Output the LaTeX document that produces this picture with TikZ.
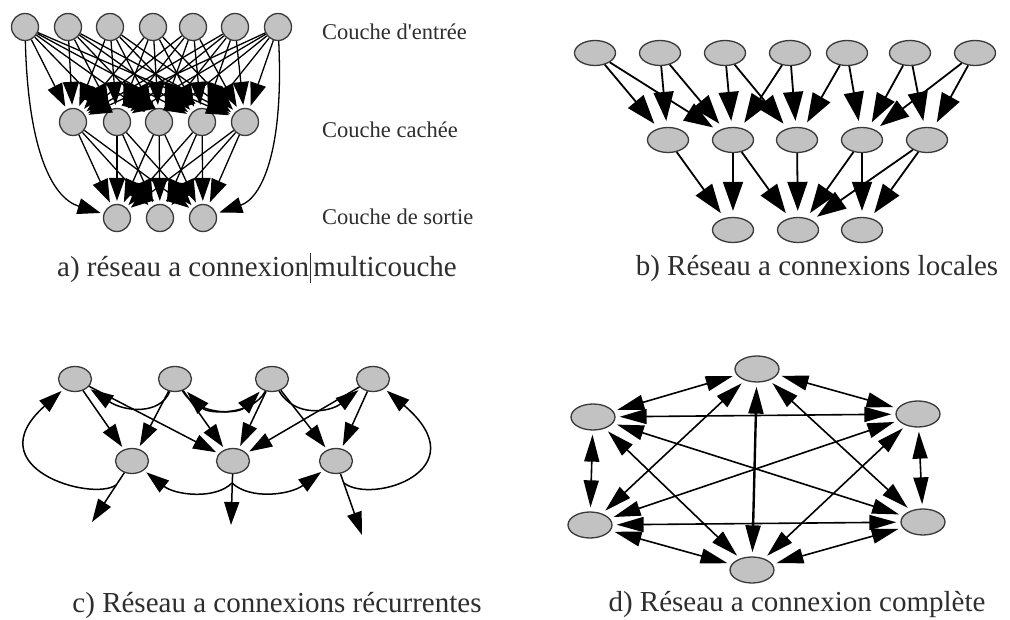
\documentclass[tikz,border=0pt]{standalone}
\usepackage{fontspec}
\setmainfont{Liberation Serif}
\usetikzlibrary{arrows.meta,shapes.geometric}
\definecolor{ng}{HTML}{C2C2C2}
\definecolor{nb}{HTML}{3A3A3A}
\definecolor{tx}{HTML}{2E2E2E}
\begin{document}
\begin{tikzpicture}[x=1pt,y=-1pt,
  nodeA/.style={circle,fill=ng,draw=nb,line width=1.3pt,minimum size=27pt,inner sep=0pt},
  nodeB/.style={ellipse,fill=ng,draw=nb,line width=1.3pt,minimum width=41pt,minimum height=25pt,inner sep=0pt},
  nodeC/.style={ellipse,fill=ng,draw=nb,line width=1.3pt,minimum width=33pt,minimum height=25pt,inner sep=0pt},
  nodeD/.style={ellipse,fill=ng,draw=nb,line width=1.3pt,minimum width=44pt,minimum height=26pt,inner sep=0pt},
  arA/.style={-{Triangle[length=23pt,width=16pt]},line width=1.3pt,shorten >=3pt},
  arB/.style={-{Triangle[length=29pt,width=20pt]},line width=1.8pt,shorten >=6pt},
  arC/.style={-{Triangle[length=23pt,width=15pt]},line width=1.5pt,shorten >=3pt},
  arCf/.style={-{Triangle[length=23pt,width=15pt]},line width=1.5pt},
  arD/.style={{Triangle[length=27pt,width=15pt]}-{Triangle[length=27pt,width=15pt]},line width=1.6pt,shorten >=4pt,shorten <=4pt},
  lab/.style={text=tx,font=\fontsize{22.5}{27}\selectfont,inner sep=0pt},
  captxt/.style={text=tx,font=\fontsize{29}{34}\selectfont,inner sep=0pt}]
\path[use as bounding box,fill=white] (0,0) rectangle (1010,620);

% ---------- panel a ----------
\foreach \n/\x in {1/25,2/68,3/110,4/153,5/193,6/235,7/278}
  \node[nodeA] (a\n) at (\x,27) {};
\foreach \n/\x in {1/73,2/117,3/159,4/202,5/245}
  \node[nodeA] (h\n) at (\x,122) {};
\foreach \n/\x in {1/117,2/160,3/203}
  \node[nodeA] (o\n) at (\x,218) {};
\foreach \i in {1,...,7}
  \foreach \j in {1,...,5}
    \draw[arA] (a\i) -- (h\j);
\foreach \i in {1,...,5}
  \foreach \j in {1,...,3}
    \draw[arA] (h\i) -- (o\j);
\draw[arA] (a1) .. controls (28,150) and (52,198) .. (o1);
\draw[arA] (a7) .. controls (284,150) and (262,198) .. (o3);
\node[lab,anchor=west] (la1) at (322,32) {Couche d{\addfontfeature{Ligatures=TeXOff}'}entrée};
\node[lab,anchor=west] (la2) at (322,130) {Couche cachée};
\node[lab,anchor=west] (la3) at (322,217) {Couche de sortie};
\node[captxt] (capa) at (257,268) {a) réseau a connexion\kern1pt\rule[-0.22em]{1.3pt}{1.05em}\kern2pt multicouche};

% ---------- panel b ----------
\foreach \n/\x in {1/595,2/660,3/725,4/790,5/847,6/910,7/975}
  \node[nodeB] (bt\n) at (\x,53) {};
\foreach \n/\x in {1/668,2/733,3/797,4/862,5/927}
  \node[nodeB] (bm\n) at (\x,140) {};
\foreach \n/\x in {1/733,2/798,3/862}
  \node[nodeB] (bb\n) at (\x,230) {};
\foreach \i/\j in {1/1,1/2,2/1,2/2,3/2,3/3,4/2,4/3,5/3,5/4,6/4,6/5,7/4,7/5}
  \draw[arB] (bt\i) -- (bm\j);
\foreach \i/\j in {1/1,2/1,2/2,3/2,4/2,4/3,5/2,5/3}
  \draw[arB] (bm\i) -- (bb\j);
\node[captxt] (capb) at (817,269) {b) Réseau a connexions locales};

% ---------- panel c ----------
\node[nodeC] (c1) at (75,379) {};
\node[nodeC] (c2) at (175,379) {};
\node[nodeC] (c3) at (272,379) {};
\node[nodeC] (c4) at (373,379) {};
\node[nodeC] (c5) at (132,461) {};
\node[nodeC] (c6) at (233,461) {};
\node[nodeC] (c7) at (336,461) {};
\coordinate (q5) at (92,522);
\coordinate (q6) at (231,525);
\coordinate (q7) at (362,535);
\coordinate (l5) at (116,485);
\coordinate (l6) at (232,483);
\coordinate (l7) at (344,483);
\foreach \i/\j in {1/5,1/6,2/5,2/6,3/6,3/7,4/6,4/7}
  \draw[arC] (c\i) -- (c\j);
\draw[arCf] (c5) -- (q5);
\draw[arCf] (c6) -- (q6);
\draw[arCf] (c7) -- (q7);
\draw[arC] (l5) .. controls (92,502) and (-25,468) .. (c1);
\draw[arC] (l7) .. controls (372,505) and (480,470) .. (c4);
\draw[arC] (c2) .. controls (160,415) and (125,412) .. (c1);
\draw[arC] (c2) .. controls (198,416) and (238,414) .. (c3);
\draw[arC] (c3) .. controls (252,416) and (208,414) .. (c2);
\draw[arC] (c3) .. controls (295,418) and (330,412) .. (c4);
\draw[arC] (l6) .. controls (215,500) and (175,495) .. (c5);
\draw[arC] (l6) .. controls (250,500) and (290,495) .. (c7);
\node[captxt] (capc) at (277,606) {c) Réseau a connexions récurrentes};

% ---------- panel d ----------
\node[nodeD] (d1) at (757,369) {};
\node[nodeD] (d2) at (593,417) {};
\node[nodeD] (d3) at (918,414) {};
\node[nodeD] (d4) at (590,525) {};
\node[nodeD] (d5) at (923,522) {};
\node[nodeD] (d6) at (752,570) {};
\foreach \i/\j in {1/2,1/3,1/4,1/5,2/3,2/4,2/5,2/6,3/4,3/5,3/6,4/5,4/6,5/6}
  \draw[arD] (d\i) -- (d\j);
\draw[arD,line width=2.4pt] (d1) -- (d6);
\node[captxt] (capd) at (797,605) {d) Réseau a connexion complète};
\end{tikzpicture}
\end{document}
